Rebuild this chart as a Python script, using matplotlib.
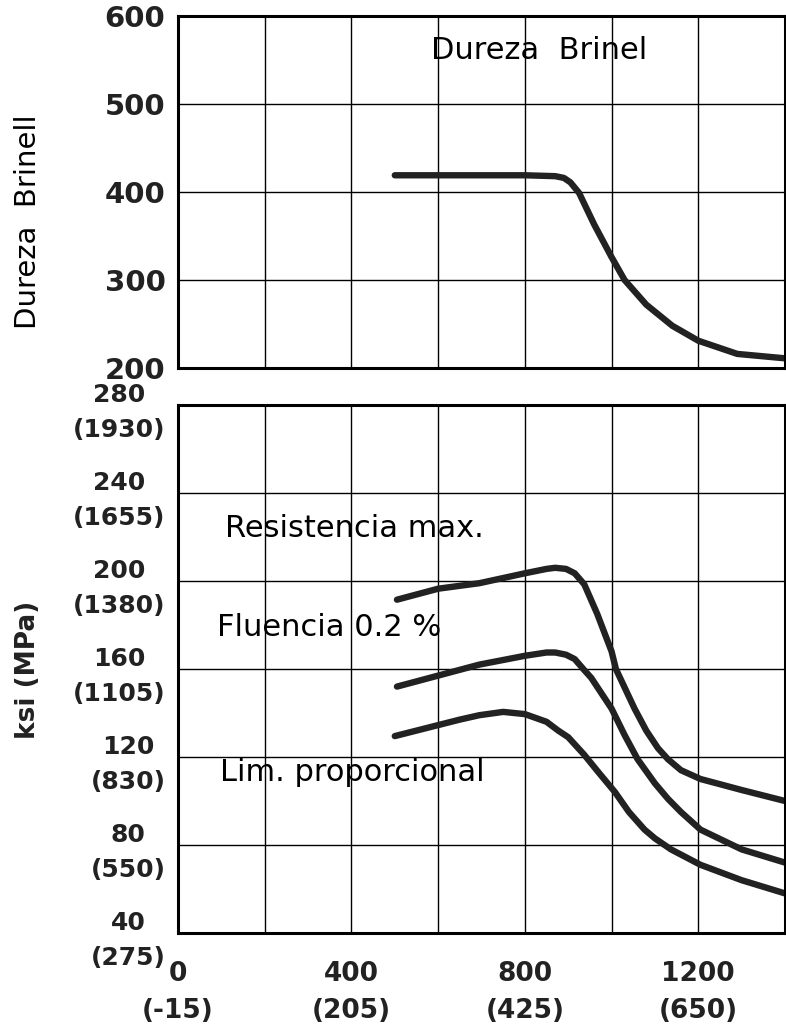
import matplotlib.pyplot as plt

# temperatura (F) y dureza Brinell
hb_temp = [500, 600, 700, 800, 870, 890, 905, 925, 960, 1000, 1030, 1080, 1140, 1200, 1290, 1400]
hb_value = [419, 419, 419, 419, 418, 416, 411, 399, 363, 326, 300, 272, 248, 231, 216, 211]

# resistencia maxima (ksi)
uts_temp = [505, 600, 695, 800, 850, 870, 895, 915, 937, 967, 1000, 1010, 1053, 1080, 1107, 1130, 1160, 1205, 1300, 1400]
uts_value = [191.5, 196.5, 199, 203.5, 205.5, 206, 205.5, 203.5, 198.5, 185, 168, 160, 142, 132, 124, 119, 114, 110, 105, 100]

# fluencia 0.2 % (ksi)
ys_temp = [505, 600, 695, 800, 850, 870, 895, 915, 937, 953, 1000, 1030, 1060, 1100, 1130, 1160, 1205, 1300, 1400]
ys_value = [152, 157, 162, 166, 167.5, 167.5, 166.5, 164.5, 159.5, 156, 142, 130, 119, 108, 101, 95, 87, 78, 72]

# limite proporcional (ksi)
pl_temp = [500, 600, 650, 695, 750, 800, 850, 877, 900, 937, 970, 1008, 1040, 1076, 1100, 1137, 1205, 1300, 1400]
pl_value = [129.5, 134.5, 137, 139, 140.5, 139.5, 136, 132, 129, 121, 113, 104, 95, 87, 83, 78, 71, 64, 58]

hb_ticks = [200, 300, 400, 500, 600]
ksi_ticks = [40, 80, 120, 160, 200, 240, 280]
mpa_labels = ['275', '550', '830', '1105', '1380', '1655', '1930']
x_ticks = [0, 400, 800, 1200]
c_labels = ['-15', '205', '425', '650']

W, H = 786, 1031
fig = plt.figure(figsize=(W / 100, H / 100), dpi=100)
ax1 = fig.add_axes([178 / W, 1 - 368 / H, 607 / W, 352 / H])
ax2 = fig.add_axes([178 / W, 1 - 933 / H, 607 / W, 528 / H])

ink = '#222222'
lw_curve = 4.6
for ax in (ax1, ax2):
    ax.set_xlim(0, 1400)
    ax.set_xticks(range(0, 1401, 200))
    ax.grid(True, color='black', linewidth=1.0)
    ax.set_axisbelow(True)
    for s in ax.spines.values():
        s.set_linewidth(2.2)
    ax.tick_params(length=0)

# panel superior
ax1.set_ylim(200, 600)
ax1.set_yticks(hb_ticks)
ax1.set_yticklabels([str(v) for v in hb_ticks], fontsize=21, fontweight='bold', color=ink)
ax1.tick_params(axis='y', pad=9)
ax1.set_xticklabels([])
ax1.plot(hb_temp, hb_value, color=ink, linewidth=lw_curve, solid_capstyle='round', solid_joinstyle='round')
ax1.text(584, 561, 'Dureza  Brinel', fontsize=22, va='center', ha='left')

# panel inferior
ax2.set_ylim(40, 280)
ax2.set_yticks(ksi_ticks)
ax2.set_yticklabels([f'{k}\n({m})' for k, m in zip(ksi_ticks, mpa_labels)],
                    fontsize=18, fontweight='bold', color=ink, linespacing=1.55)
for lab in ax2.get_yticklabels():
    lab.set_multialignment('center')
ax2.tick_params(axis='y', pad=9)

xt_labels = []
for i in range(0, 1401, 200):
    if i in x_ticks:
        j = x_ticks.index(i)
        xt_labels.append(f'{i}\n({c_labels[j]})')
    else:
        xt_labels.append('')
ax2.set_xticklabels(xt_labels, fontsize=19, fontweight='bold', color=ink, linespacing=1.55)
ax2.tick_params(axis='x', pad=20)

for t, v in [(uts_temp, uts_value), (ys_temp, ys_value), (pl_temp, pl_value)]:
    ax2.plot(t, v, color=ink, linewidth=lw_curve, solid_capstyle='round', solid_joinstyle='round')

ax2.text(108, 224, 'Resistencia max.', fontsize=22, va='center', ha='left')
ax2.text(90, 179, 'Fluencia 0.2 %', fontsize=22, va='center', ha='left')
ax2.text(98, 113, 'Lim. proporcional', fontsize=22, va='center', ha='left')

fig.text(28 / W, 1 - 222 / H, 'Dureza  Brinell', rotation=90, fontsize=21, ha='center', va='center')
fig.text(28 / W, 1 - 670 / H, 'ksi (MPa)', rotation=90, fontsize=19, fontweight='bold', ha='center', va='center', color=ink)

fig.savefig('out.png', dpi=100)
